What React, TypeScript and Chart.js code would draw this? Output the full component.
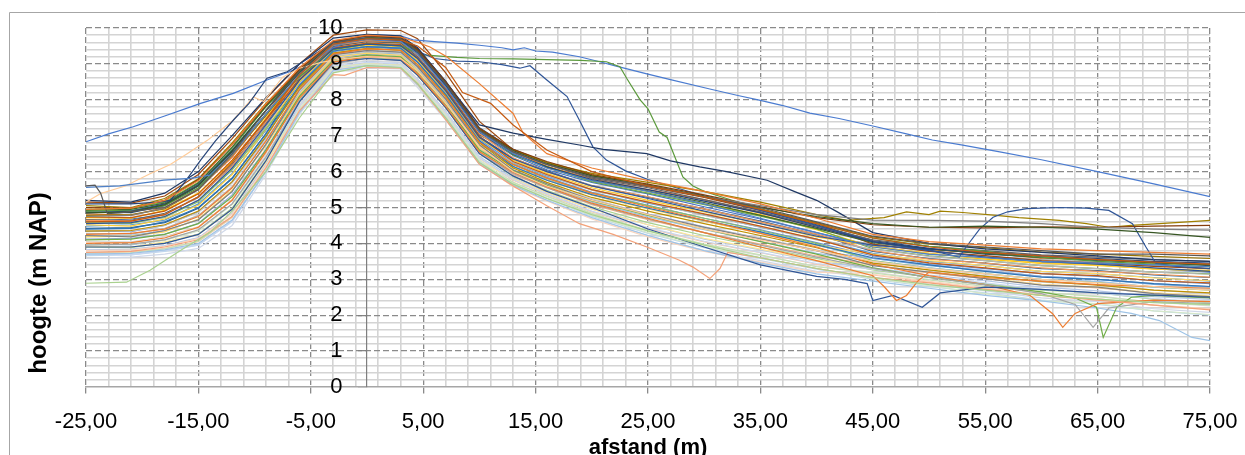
import React, { useEffect, useRef } from 'react';
import { Chart, registerables } from 'chart.js';

Chart.register(...registerables);

// ---------- axis / text ----------
const X_TITLE = 'afstand (m)';
const Y_TITLE = 'hoogte (m NAP)';
const X_MIN = -25;
const X_MAX = 75;
const X_MAJOR = 10;
const X_MINOR = 2;
const Y_MIN = 0;
const Y_MAX = 10;
const Y_MINOR = 0.2;

// ---------- profile stations (m) shared by the regular profiles ----------
const STATIONS = [-25, -21, -18, -15, -12, -9, -6, -3, 0, 3, 4.5, 7, 10, 13, 16, 20, 25, 30, 35, 40, 45, 50, 55, 60, 65, 70, 75];

// ---------- regular profiles (heights m NAP at STATIONS) ----------
const R01 = [4.62, 4.68, 4.80, 5.30, 6.15, 7.40, 8.70, 9.50, 9.64, 9.60, 9.25, 8.40, 7.05, 6.45, 6.05, 5.70, 5.38, 5.02, 4.68, 4.30, 3.93, 3.70, 3.60, 3.47, 3.40, 3.30, 3.20];
const R02 = [4.82, 4.78, 5.00, 5.52, 6.40, 7.60, 8.82, 9.62, 9.76, 9.72, 9.40, 8.50, 7.20, 6.55, 6.15, 5.80, 5.50, 5.22, 4.85, 4.45, 4.05, 3.82, 3.74, 3.58, 3.55, 3.45, 3.42];
const R03 = [4.55, 4.58, 4.72, 5.20, 6.05, 7.25, 8.55, 9.42, 9.55, 9.52, 9.15, 8.25, 6.95, 6.38, 6.00, 5.62, 5.30, 4.95, 4.60, 4.22, 3.98, 3.80, 3.63, 3.55, 3.48, 3.38, 3.30];
const R04 = [4.72, 4.70, 4.92, 5.40, 6.28, 7.48, 8.68, 9.55, 9.68, 9.63, 9.30, 8.35, 7.10, 6.50, 6.10, 5.75, 5.45, 5.10, 4.80, 4.38, 3.90, 3.72, 3.56, 3.44, 3.40, 3.28, 3.25];
const R05 = [4.48, 4.52, 4.65, 5.10, 5.95, 7.15, 8.48, 9.38, 9.50, 9.46, 9.08, 8.20, 6.90, 6.25, 5.88, 5.50, 5.12, 4.80, 4.45, 4.12, 3.72, 3.50, 3.38, 3.22, 3.15, 3.05, 2.95];
const R06 = [4.95, 4.98, 5.15, 5.70, 6.65, 7.80, 8.75, 9.56, 9.70, 9.66, 9.32, 8.42, 7.12, 6.46, 6.12, 5.72, 5.40, 5.08, 4.76, 4.40, 3.85, 3.65, 3.52, 3.38, 3.30, 3.20, 3.15];
const R07 = [4.88, 4.86, 5.05, 5.60, 6.55, 7.70, 8.85, 9.62, 9.78, 9.72, 9.42, 8.52, 7.22, 6.62, 6.25, 5.88, 5.60, 5.30, 4.95, 4.52, 4.08, 3.86, 3.70, 3.62, 3.52, 3.48, 3.38];
const R08 = [5.15, 5.12, 5.32, 5.92, 6.92, 8.02, 9.00, 9.80, 9.95, 9.93, 9.70, 8.75, 7.40, 6.60, 6.22, 5.85, 5.58, 5.28, 4.92, 4.56, 3.98, 3.78, 3.66, 3.52, 3.45, 3.36, 3.30];
const R09 = [4.66, 4.64, 4.84, 5.28, 6.20, 7.35, 8.62, 9.48, 9.62, 9.58, 9.20, 8.32, 7.02, 6.55, 6.20, 5.82, 5.55, 5.22, 4.88, 4.48, 4.10, 3.92, 3.80, 3.68, 3.62, 3.55, 3.50];
const R10 = [4.78, 4.80, 4.96, 5.50, 6.45, 7.55, 8.70, 9.54, 9.66, 9.60, 9.28, 8.38, 7.08, 6.60, 6.24, 5.90, 5.62, 5.30, 4.96, 4.58, 4.18, 3.98, 3.88, 3.76, 3.70, 3.64, 3.58];
const R11 = [4.42, 4.44, 4.58, 4.98, 5.82, 7.05, 8.55, 9.44, 9.56, 9.52, 9.15, 8.26, 6.98, 6.36, 6.02, 5.60, 5.28, 4.96, 4.62, 4.25, 3.78, 3.58, 3.45, 3.30, 3.24, 3.12, 3.05];
const R12 = [4.92, 4.95, 5.12, 5.68, 6.68, 7.82, 8.80, 9.60, 9.74, 9.70, 9.38, 8.48, 7.18, 6.48, 6.14, 5.76, 5.46, 5.14, 4.78, 4.42, 4.02, 3.84, 3.72, 3.60, 3.55, 3.46, 3.40];
const R13 = [4.35, 4.33, 4.50, 4.88, 5.70, 6.95, 8.42, 9.34, 9.47, 9.42, 9.04, 8.14, 6.86, 6.20, 5.84, 5.42, 5.06, 4.70, 4.38, 4.02, 3.65, 3.44, 3.30, 3.16, 3.08, 2.96, 2.88];
const R14 = [4.64, 4.62, 4.80, 5.30, 6.16, 7.38, 8.66, 9.52, 9.65, 9.62, 9.26, 8.36, 7.06, 6.38, 6.00, 5.60, 5.30, 4.96, 4.60, 4.26, 3.80, 3.56, 3.45, 3.32, 3.22, 3.14, 3.06];
const R15 = [4.28, 4.26, 4.42, 4.78, 5.58, 6.85, 8.28, 9.25, 9.38, 9.32, 8.92, 8.02, 6.75, 6.26, 5.90, 5.48, 5.14, 4.78, 4.46, 4.10, 3.84, 3.64, 3.52, 3.38, 3.30, 3.20, 3.14];
const R16 = [4.52, 4.48, 4.68, 5.06, 5.92, 7.18, 8.50, 9.40, 9.52, 9.48, 9.10, 8.22, 6.92, 6.32, 5.95, 5.55, 5.20, 4.88, 4.55, 4.18, 3.92, 3.72, 3.58, 3.46, 3.38, 3.30, 3.22];
const R17 = [4.20, 4.22, 4.35, 4.66, 5.45, 6.75, 8.20, 9.20, 9.32, 9.28, 8.86, 7.96, 6.70, 6.15, 5.78, 5.35, 4.98, 4.62, 4.30, 3.95, 3.58, 3.38, 3.24, 3.08, 3.00, 2.86, 2.78];
const R18 = [4.58, 4.56, 4.74, 5.16, 6.05, 7.20, 8.35, 9.30, 9.42, 9.38, 8.98, 8.08, 6.80, 6.20, 5.82, 5.40, 5.05, 4.70, 4.36, 4.00, 3.52, 3.32, 3.16, 3.00, 2.92, 2.78, 2.70];
const R19 = [4.12, 4.14, 4.26, 4.56, 5.35, 6.62, 8.14, 9.16, 9.28, 9.24, 8.80, 7.90, 6.64, 6.05, 5.66, 5.22, 4.82, 4.46, 4.14, 3.80, 3.58, 3.40, 3.24, 3.08, 3.00, 2.88, 2.80];
const R20 = [4.05, 4.03, 4.18, 4.46, 5.22, 6.52, 8.08, 9.12, 9.24, 9.18, 8.74, 7.86, 6.58, 5.92, 5.55, 5.08, 4.66, 4.30, 3.98, 3.65, 3.40, 3.18, 3.02, 2.86, 2.76, 2.62, 2.52];
const R21 = [4.36, 4.34, 4.50, 4.86, 5.68, 6.90, 8.22, 9.22, 9.34, 9.29, 8.88, 7.98, 6.70, 6.02, 5.64, 5.24, 4.80, 4.44, 4.15, 3.82, 3.46, 3.25, 3.10, 2.92, 2.85, 2.70, 2.60];
const R22 = [4.18, 4.20, 4.32, 4.68, 5.48, 6.72, 8.15, 9.18, 9.30, 9.24, 8.82, 7.92, 6.65, 6.12, 5.76, 5.34, 4.96, 4.62, 4.28, 3.94, 3.70, 3.52, 3.38, 3.22, 3.16, 3.04, 2.96];
const R23 = [3.98, 3.96, 4.10, 4.36, 5.10, 6.42, 8.00, 9.07, 9.18, 9.14, 8.70, 7.80, 6.52, 5.98, 5.60, 5.15, 4.74, 4.38, 4.06, 3.72, 3.50, 3.32, 3.15, 3.00, 2.94, 2.78, 2.72];
const R24 = [3.90, 3.88, 4.02, 4.26, 4.98, 6.30, 7.98, 9.06, 9.18, 9.12, 8.68, 7.78, 6.50, 5.86, 5.48, 5.02, 4.58, 4.22, 3.90, 3.58, 3.26, 3.06, 2.88, 2.70, 2.62, 2.45, 2.35];
const R25 = [3.82, 3.84, 3.94, 4.16, 4.85, 6.20, 7.86, 8.98, 9.08, 9.04, 8.58, 7.68, 6.42, 5.82, 5.42, 4.96, 4.52, 4.12, 3.82, 3.50, 3.32, 3.12, 2.96, 2.78, 2.68, 2.52, 2.44];
const R26 = [3.74, 3.76, 3.86, 4.05, 4.72, 6.10, 7.80, 8.92, 9.02, 8.98, 8.52, 7.62, 6.36, 5.76, 5.36, 4.88, 4.42, 4.04, 3.74, 3.42, 3.12, 2.92, 2.74, 2.56, 2.45, 2.28, 2.18];
const R27 = [4.06, 4.04, 4.18, 4.45, 5.20, 6.45, 7.88, 8.97, 9.10, 9.05, 8.56, 7.66, 6.40, 5.70, 5.30, 4.82, 4.35, 3.96, 3.66, 3.36, 3.20, 3.00, 2.82, 2.62, 2.54, 2.36, 2.26];
const R28 = [3.92, 3.90, 4.04, 4.25, 4.95, 6.25, 7.74, 8.90, 9.00, 8.95, 8.46, 7.56, 6.30, 5.80, 5.42, 4.95, 4.52, 4.14, 3.84, 3.52, 3.40, 3.20, 3.04, 2.86, 2.78, 2.62, 2.54];
const R29 = [3.66, 3.68, 3.78, 3.95, 4.62, 6.00, 7.72, 8.88, 8.98, 8.94, 8.45, 7.55, 6.30, 5.65, 5.25, 4.76, 4.28, 3.88, 3.58, 3.28, 3.00, 2.80, 2.62, 2.42, 2.30, 2.12, 2.00];
const R30 = [3.72, 3.74, 3.85, 4.06, 4.75, 6.08, 7.66, 8.84, 8.94, 8.90, 8.40, 7.50, 6.25, 5.70, 5.32, 4.84, 4.36, 3.98, 3.68, 3.35, 3.18, 2.98, 2.80, 2.64, 2.52, 2.36, 2.28];
const R31 = [4.40, 4.42, 4.60, 5.00, 5.80, 7.05, 8.40, 9.36, 9.48, 9.44, 9.05, 8.15, 6.85, 6.14, 5.76, 5.36, 4.98, 4.64, 4.32, 3.96, 3.60, 3.40, 3.22, 3.06, 3.00, 2.88, 2.80];
const R32 = [4.74, 4.72, 4.90, 5.38, 6.32, 7.45, 8.56, 9.45, 9.58, 9.54, 9.16, 8.28, 6.98, 6.28, 5.92, 5.50, 5.15, 4.82, 4.48, 4.12, 3.68, 3.46, 3.32, 3.16, 3.10, 2.96, 2.90];
const R33 = [4.22, 4.18, 4.36, 4.66, 5.45, 6.76, 8.28, 9.26, 9.37, 9.33, 8.92, 8.02, 6.74, 6.04, 5.66, 5.20, 4.80, 4.45, 4.12, 3.80, 3.38, 3.20, 3.02, 2.84, 2.78, 2.60, 2.52];
const R34 = [4.34, 4.36, 4.52, 4.90, 5.72, 6.98, 8.36, 9.30, 9.43, 9.38, 8.98, 8.10, 6.80, 6.10, 5.70, 5.28, 4.90, 4.55, 4.22, 3.88, 3.45, 3.26, 3.08, 2.94, 2.84, 2.70, 2.62];
const R35 = [3.58, 3.62, 3.70, 3.86, 4.50, 5.92, 7.60, 8.80, 8.88, 8.86, 8.34, 7.44, 6.20, 5.60, 5.20, 4.70, 4.22, 3.80, 3.52, 3.22, 3.06, 2.86, 2.68, 2.48, 2.38, 2.18, 2.08];
const R36 = [3.80, 3.82, 3.92, 4.14, 4.82, 6.15, 7.66, 8.85, 8.95, 8.90, 8.40, 7.50, 6.24, 5.58, 5.18, 4.68, 4.18, 3.78, 3.48, 3.20, 3.14, 2.94, 2.76, 2.56, 2.46, 2.28, 2.18];
const R37 = [3.70, 3.68, 3.80, 3.96, 4.60, 6.02, 7.82, 8.94, 9.04, 9.00, 8.54, 7.64, 6.38, 5.78, 5.38, 4.90, 4.44, 4.06, 3.75, 3.44, 3.28, 3.08, 2.90, 2.72, 2.62, 2.46, 2.36];
const R38 = [3.96, 3.98, 4.08, 4.35, 5.08, 6.35, 7.74, 8.90, 9.00, 8.96, 8.48, 7.58, 6.32, 5.66, 5.26, 4.78, 4.30, 3.90, 3.60, 3.30, 3.02, 2.82, 2.60, 2.40, 2.32, 2.12, 2.02];

// ---------- individual profiles with their own stations ----------
const SP01_X = [-25, -23, -20.8, -18, -14.8, -11.9, -8.9, -6.9, -5, -3, -1, 1, 3, 4.1, 6, 8, 10, 12, 13, 14, 15, 16.5, 18.9, 20.7, 22, 24.9, 27, 30.5, 33, 34.9, 37, 39.4, 42, 45, 48, 50.3, 53, 56.3, 60, 65, 70, 75];
const SP01_Y = [6.83, 7.05, 7.25, 7.55, 7.9, 8.18, 8.55, 8.78, 9.05, 9.45, 9.72, 9.8, 9.78, 9.67, 9.62, 9.58, 9.52, 9.45, 9.39, 9.45, 9.36, 9.33, 9.2, 9.06, 8.95, 8.72, 8.56, 8.3, 8.12, 7.99, 7.84, 7.63, 7.48, 7.27, 7.05, 6.88, 6.74, 6.55, 6.33, 6.0, 5.66, 5.3];
const SP02_X = [-25, -21, -18, -15, -12, -9, -6, -3, 0, 3, 5, 8, 10, 13, 16, 19, 21.3, 22.5, 23.1, 24.3, 25, 26, 26.7, 28.1, 29, 30, 32, 35, 40, 45, 50, 55, 60, 65, 70, 75];
const SP02_Y = [4.9, 4.92, 5.05, 5.55, 6.5, 7.6, 8.65, 9.4, 9.55, 9.5, 9.25, 9.18, 9.15, 9.14, 9.12, 9.1, 9.06, 8.92, 8.6, 8.0, 7.75, 7.1, 6.95, 5.85, 5.6, 5.45, 5.25, 4.95, 4.55, 4.15, 3.92, 3.78, 3.62, 3.5, 3.42, 3.35];
const SP03_X = [-25, -21, -18, -15, -12, -9, -6, -3, 0, 3, 4.5, 6, 8, 10, 12, 13.6, 14.5, 16, 17.8, 18.9, 20.1, 21.3, 23, 25, 30, 35, 40, 45, 50, 55, 60, 65, 70, 75];
const SP03_Y = [4.85, 4.9, 5.1, 5.65, 6.6, 7.7, 8.75, 9.55, 9.7, 9.66, 9.35, 9.15, 9.08, 9.06, 8.98, 8.88, 8.95, 8.55, 8.09, 7.43, 6.69, 6.32, 6.02, 5.78, 5.32, 4.92, 4.5, 4.05, 3.8, 3.62, 3.5, 3.42, 3.32, 3.22];
const SP04_X = [-25, -21, -18, -15, -12, -9, -6, -3, 0, 3, 4.5, 7, 10, 13, 16, 18.9, 21, 24.9, 27, 29.6, 32, 35.6, 38, 40, 42, 45, 50, 55, 60, 65, 70, 75];
const SP04_Y = [5.2, 5.15, 5.4, 6.0, 7.0, 8.05, 9.0, 9.72, 9.82, 9.78, 9.45, 8.5, 7.3, 7.07, 6.9, 6.74, 6.62, 6.5, 6.3, 6.13, 6.0, 5.76, 5.45, 5.2, 4.85, 4.3, 4.0, 3.85, 3.75, 3.65, 3.55, 3.5];
const SP05_X = [-25, -21, -18, -15, -12, -9, -6, -3, 0, 3, 4.5, 7, 10, 13, 16, 20, 25, 30, 35, 40, 42.7, 46, 48, 50, 51, 53, 56, 58, 61.6, 64, 66, 68, 70.5, 73, 75];
const SP05_Y = [5.05, 5.0, 5.25, 5.8, 6.8, 7.9, 8.85, 9.6, 9.72, 9.68, 9.35, 8.45, 7.2, 6.6, 6.25, 5.95, 5.7, 5.45, 5.15, 4.8, 4.64, 4.72, 4.88, 4.8, 4.9, 4.86, 4.78, 4.72, 4.64, 4.55, 4.45, 4.5, 4.55, 4.6, 4.64];
const SP06_X = [-25, -21, -18, -15, -12, -9, -6, -3, 0, 3, 4.5, 7, 10, 13, 16, 20, 25, 30, 35, 40, 45, 50, 52.7, 53.3, 54.5, 55.7, 57, 58.7, 61.6, 64, 66, 68.1, 69.3, 70.2, 72, 75];
const SP06_Y = [4.55, 4.58, 4.75, 5.2, 6.1, 7.3, 8.55, 9.42, 9.55, 9.5, 9.15, 8.25, 6.95, 6.35, 6.0, 5.6, 5.25, 4.9, 4.55, 4.2, 3.95, 3.82, 3.62, 3.9, 4.4, 4.73, 4.88, 4.97, 5.0, 4.98, 4.92, 4.55, 3.9, 3.44, 3.36, 3.3];
const SP07_X = STATIONS;
const SP07_Y = [5.0, 4.98, 5.2, 5.78, 6.75, 7.85, 8.85, 9.62, 9.78, 9.74, 9.4, 8.5, 7.2, 6.62, 6.28, 5.92, 5.65, 5.35, 5.02, 4.72, 4.52, 4.45, 4.43, 4.46, 4.45, 4.48, 4.5];
const SP08_X = STATIONS;
const SP08_Y = [4.85, 4.88, 5.08, 5.62, 6.58, 7.7, 8.78, 9.58, 9.72, 9.68, 9.35, 8.45, 7.15, 6.58, 6.22, 5.88, 5.62, 5.32, 5.0, 4.75, 4.55, 4.45, 4.48, 4.45, 4.4, 4.3, 4.17];
const SP09_X = STATIONS;
const SP09_Y = [4.75, 4.78, 4.98, 5.5, 6.45, 7.6, 8.7, 9.52, 9.68, 9.64, 9.3, 8.4, 7.12, 6.55, 6.2, 5.85, 5.6, 5.3, 5.05, 4.8, 4.65, 4.64, 4.62, 4.55, 4.45, 4.4, 4.37];
const SP10_X = [-25, -21, -18, -15, -12, -9, -6, -3, 0, 3, 4.5, 7, 10, 13, 16, 20, 25, 30, 35, 40, 45, 50, 55, 60, 65, 68, 70.5, 73.4, 75];
const SP10_Y = [3.7, 3.72, 3.82, 4.0, 4.65, 6.0, 7.65, 8.82, 8.95, 8.9, 8.42, 7.5, 6.22, 5.62, 5.2, 4.72, 4.22, 3.8, 3.45, 3.15, 2.95, 2.75, 2.55, 2.4, 2.2, 2.05, 1.85, 1.38, 1.29];
const SP11_X = [-25, -21, -18, -15, -12, -9, -6, -3, 0, 3, 4.5, 7, 10, 13, 16, 20, 25, 30, 35, 40, 45, 50, 55, 60, 63, 64.9, 65.5, 66.7, 68, 70, 75];
const SP11_Y = [4.1, 4.12, 4.25, 4.55, 5.3, 6.6, 8.1, 9.1, 9.25, 9.2, 8.78, 7.88, 6.6, 6.02, 5.62, 5.18, 4.78, 4.4, 4.05, 3.7, 3.32, 3.05, 2.85, 2.65, 2.48, 2.22, 1.38, 2.22, 2.5, 2.55, 2.48];
const SP12_X = [-25, -21, -18, -15, -12, -9, -6, -3, 0, 3, 4.5, 7, 10, 13, 16, 20, 25, 30, 35, 40, 45, 50, 55, 59, 61, 61.9, 63, 65, 70, 75];
const SP12_Y = [4.25, 4.28, 4.4, 4.75, 5.55, 6.85, 8.3, 9.28, 9.42, 9.38, 8.98, 8.08, 6.82, 6.2, 5.82, 5.4, 5.02, 4.65, 4.28, 3.9, 3.42, 3.1, 2.85, 2.55, 2.04, 1.66, 2.05, 2.32, 2.42, 2.38];
const SP13_X = [-25, -21, -18, -15, -12, -9, -6, -3, 0, 3, 4.5, 7, 10, 13, 16, 20, 25, 30, 35, 40, 45, 50, 55, 60, 63, 64.6, 66, 70, 75];
const SP13_Y = [3.95, 3.98, 4.1, 4.38, 5.1, 6.4, 7.95, 9.0, 9.15, 9.1, 8.7, 7.8, 6.5, 5.95, 5.55, 5.1, 4.68, 4.3, 3.95, 3.62, 3.3, 3.05, 2.85, 2.6, 2.3, 1.66, 2.2, 2.38, 2.32];
const SP14_X = [-25, -21, -18, -15, -12, -9, -6, -3, -2, 0, 3, 4.5, 7, 10, 13, 16, 18.9, 21.9, 24.9, 27.8, 29, 30.5, 31.4, 32.1, 35, 40, 45, 50, 55, 60, 65, 70, 75];
const SP14_Y = [3.75, 3.78, 3.9, 4.1, 4.75, 6.1, 7.7, 8.7, 8.68, 8.9, 8.88, 8.45, 7.45, 6.2, 5.6, 5.05, 4.55, 4.25, 3.9, 3.53, 3.34, 3.02, 3.3, 3.75, 3.6, 3.3, 3.05, 2.9, 2.72, 2.55, 2.42, 2.28, 2.15];
const SP15_X = [-25, -21, -18, -15, -12, -9, -6, -3, 0, 3, 4.5, 7, 10, 13, 16, 20, 25, 30, 35, 40, 42.5, 44.5, 45, 46.8, 49.4, 51, 55, 60, 65, 70, 75];
const SP15_Y = [3.9, 3.9, 4.0, 4.25, 4.95, 6.3, 7.95, 9.05, 9.15, 9.1, 8.68, 7.78, 6.5, 5.88, 5.45, 5.0, 4.4, 3.9, 3.4, 3.08, 3.0, 2.88, 2.41, 2.55, 2.22, 2.62, 2.78, 2.72, 2.62, 2.56, 2.5];
const SP16_X = [-25, -21, -18, -15, -12, -9, -6, -3, 0, 3, 4.5, 7, 10, 13, 16, 20, 25, 30, 35, 40, 45, 46, 47.1, 48, 49, 50, 55, 60, 65, 70, 75];
const SP16_Y = [4.0, 4.02, 4.15, 4.45, 5.2, 6.55, 8.05, 9.05, 9.2, 9.15, 8.72, 7.82, 6.55, 5.98, 5.58, 5.12, 4.7, 4.3, 3.9, 3.52, 3.1, 2.8, 2.41, 2.55, 2.95, 3.2, 3.05, 2.95, 2.85, 2.8, 2.75];
const SP17_X = [-25, -23.7, -21.5, -19.3, -17.5, -16, -14.2, -11.9, -10.1, -9.2, -7.5, -6, -4, -2, 0, 3, 4.5, 7, 10, 13, 16, 20, 25, 30, 35, 40, 45, 50, 55, 60, 65, 70, 75];
const SP17_Y = [5.15, 5.39, 5.6, 5.94, 6.2, 6.5, 6.87, 7.43, 8.08, 7.95, 8.63, 8.88, 9.05, 9.15, 9.2, 9.15, 8.8, 7.9, 6.7, 6.0, 5.6, 5.2, 4.8, 4.4, 4.1, 3.8, 3.5, 3.3, 3.15, 3.0, 2.9, 2.8, 2.7];
const SP18_X = [-25, -21, -18.5, -17.5, -16, -14.8, -13.5, -11.9, -10.5, -8.9, -7.1, -5.5, -3, 0, 3, 4.5, 7, 10, 13, 16, 20, 25, 30, 35, 40, 45, 50, 55, 60, 65, 70, 75];
const SP18_Y = [5.1, 5.1, 5.15, 5.2, 5.8, 6.32, 6.85, 7.43, 7.9, 8.6, 8.78, 9.1, 9.6, 9.7, 9.65, 9.3, 8.4, 7.1, 6.5, 6.12, 5.78, 5.5, 5.18, 4.85, 4.45, 4.05, 3.85, 3.75, 3.65, 3.58, 3.5, 3.45];
const SP19_X = [-25, -22, -19, -18.1, -15.7, -14, -12, -9, -6, -3, 0, 3, 4.5, 7, 10, 13, 16, 20, 25, 30, 35, 40, 45, 50, 55, 60, 65, 70, 75];
const SP19_Y = [5.56, 5.6, 5.72, 5.76, 5.81, 5.9, 6.5, 7.6, 8.7, 9.55, 9.68, 9.62, 9.28, 8.35, 7.1, 6.5, 6.1, 5.75, 5.45, 5.1, 4.7, 4.3, 3.9, 3.7, 3.6, 3.5, 3.45, 3.4, 3.35];
const SP20_X = [-25, -24.2, -23.7, -23.1, -22, -18, -15, -12, -9, -6, -3, 0, 3, 4.5, 7, 10, 13, 16, 20, 25, 30, 35, 40, 45, 50, 55, 60, 65, 70, 75];
const SP20_Y = [5.6, 5.62, 5.4, 4.83, 4.85, 5.0, 5.5, 6.5, 7.7, 8.8, 9.6, 9.72, 9.7, 9.35, 8.45, 7.15, 6.55, 6.2, 5.85, 5.6, 5.3, 5.0, 4.6, 4.2, 4.0, 3.9, 3.8, 3.7, 3.7, 3.65];
const SP21_X = [-25, -21.4, -19.3, -16.6, -14, -12, -9, -6, -3, 0, 3, 4.5, 7, 10, 13, 16, 20, 25, 30, 35, 40, 45, 50, 55, 60, 65, 70, 75];
const SP21_Y = [2.89, 2.92, 3.25, 3.8, 4.3, 4.9, 6.0, 7.5, 8.75, 8.95, 8.9, 8.45, 7.5, 6.25, 5.65, 5.25, 4.8, 4.35, 3.95, 3.6, 3.3, 3.05, 2.85, 2.7, 2.55, 2.45, 2.35, 2.3];
const SP22_X = [-25, -21, -18, -15, -12, -9, -6, -3, 0, 3, 4.5, 5.6, 7.1, 10, 13, 13.9, 16, 20, 25, 30, 35, 40, 45, 50, 55, 60, 65, 70, 75];
const SP22_Y = [4.95, 4.98, 5.2, 5.75, 6.75, 7.88, 8.9, 9.65, 9.8, 9.75, 9.6, 9.47, 9.2, 8.45, 7.62, 7.07, 6.5, 6.1, 5.75, 5.45, 5.1, 4.7, 4.25, 4.05, 3.95, 3.85, 3.8, 3.75, 3.7];
const SP23_X = [-25, -21, -18, -15, -12, -9, -6, -3, 0, 3, 4.5, 7, 8.5, 11, 13, 16, 20, 25, 30, 35, 40, 45, 50, 55, 60, 65, 70, 75];
const SP23_Y = [4.6, 4.62, 4.8, 5.3, 6.25, 7.45, 8.7, 9.55, 9.7, 9.66, 9.5, 8.9, 8.2, 7.9, 7.3, 6.6, 6.0, 5.6, 5.3, 4.95, 4.55, 4.15, 3.9, 3.75, 3.65, 3.55, 3.48, 3.42];

const REGULAR = [R01, R02, R03, R04, R05, R06, R07, R08, R09, R10, R11, R12, R13, R14, R15, R16, R17, R18, R19, R20, R21, R22, R23, R24, R25, R26, R27, R28, R29, R30, R31, R32, R33, R34, R35, R36, R37, R38];
const SPECIAL_X = [SP01_X, SP02_X, SP03_X, SP04_X, SP05_X, SP06_X, SP07_X, SP08_X, SP09_X, SP10_X, SP11_X, SP12_X, SP13_X, SP14_X, SP15_X, SP16_X, SP17_X, SP18_X, SP19_X, SP20_X, SP21_X, SP22_X, SP23_X];
const SPECIAL_Y = [SP01_Y, SP02_Y, SP03_Y, SP04_Y, SP05_Y, SP06_Y, SP07_Y, SP08_Y, SP09_Y, SP10_Y, SP11_Y, SP12_Y, SP13_Y, SP14_Y, SP15_Y, SP16_Y, SP17_Y, SP18_Y, SP19_Y, SP20_Y, SP21_Y, SP22_Y, SP23_Y];

// ---------- styles ----------
const REGULAR_COLORS = ['#4472C4', '#ED7D31', '#A5A5A5', '#FFC000', '#5B9BD5', '#70AD47', '#264478', '#9E480E', '#636363', '#997300', '#255E91', '#43682B', '#698ED0', '#F1975A', '#B7B7B7', '#FFCD33', '#7CAFDD', '#8CC168', '#8FAADC', '#F4B183', '#C9C9C9', '#FFD966', '#9DC3E6', '#A9D18E', '#B4C7E7', '#F8CBAD', '#DBDBDB', '#FFE699', '#BDD7EE', '#C5E0B4', '#2E75B6', '#C55A11', '#7F7F7F', '#BF9000', '#D0D8E8', '#F9D5BE', '#C8D6EE', '#D5E8C8'];
const SPECIAL_COLORS = ['#4A7BD0', '#5B9A3C', '#2F5597', '#1F3864', '#A08000', '#2F5597', '#843C0C', '#375623', '#7F7F7F', '#9DC3E6', '#70AD47', '#ED7D31', '#A5A5A5', '#F4A27A', '#2F5597', '#ED7D31', '#FFCC99', '#264478', '#4F81C7', '#595959', '#A9D18E', '#ED7D31', '#C55A11'];

const FONT = '"Liberation Sans", Arial, sans-serif';
const MAJOR_GRID = '#8a8a8a';
const MINOR_GRID = '#d4d4d4';
const DASH = [6, 3];
// right-aligned y labels end this far left of the x = 0 axis (space-padded)
const Y_LABEL_PAD = '    ';

const isMajorX = (v: number) => {
  const k = (v - X_MIN) / X_MAJOR;
  return Math.abs(k - Math.round(k)) < 1e-6;
};
const isMajorY = (v: number) => Math.abs(v - Math.round(v)) < 1e-6;
const fmtX = (v: number) => v.toFixed(2).replace('.', ',');

const decorPlugin = {
  id: 'decor',
  beforeDraw(chart: any) {
    const { ctx, width, height } = chart;
    ctx.save();
    ctx.fillStyle = '#ffffff';
    ctx.fillRect(0, 0, width, height);
    ctx.strokeStyle = '#a6a6a6';
    ctx.lineWidth = 1;
    ctx.beginPath();
    ctx.moveTo(9.5, height);
    ctx.lineTo(9.5, 12.5);
    ctx.lineTo(width, 12.5);
    ctx.stroke();
    ctx.restore();
  },
  afterDraw(chart: any) {
    const ctx = chart.ctx;
    ctx.save();
    ctx.translate(39, 283);
    ctx.rotate(-Math.PI / 2);
    ctx.font = 'bold 24px ' + FONT;
    ctx.fillStyle = '#000000';
    ctx.textAlign = 'center';
    ctx.textBaseline = 'middle';
    ctx.fillText(Y_TITLE, 0, 0);
    ctx.restore();
  },
};

export default function App() {
  const ref = useRef<HTMLCanvasElement>(null);

  useEffect(() => {
    if (!ref.current) return;
    const datasets: any[] = [];
    const total = REGULAR.length + SPECIAL_Y.length;
    REGULAR.forEach((ys, i) => {
      datasets.push({
        data: STATIONS.map((x, j) => ({ x, y: ys[j] })),
        borderColor: REGULAR_COLORS[i % REGULAR_COLORS.length],
        order: total - i,
      });
    });
    SPECIAL_Y.forEach((ys, i) => {
      const xs = SPECIAL_X[i];
      datasets.push({
        data: xs.map((x, j) => ({ x, y: ys[j] })),
        borderColor: SPECIAL_COLORS[i],
        order: total - REGULAR.length - i,
      });
    });

    const chart = new Chart(ref.current, {
      type: 'line',
      data: { datasets },
      options: {
        animation: false,
        responsive: true,
        maintainAspectRatio: false,
        events: [],
        layout: { padding: { left: 86, right: 35, top: 28, bottom: 0 } },
        elements: {
          point: { radius: 0 },
          line: { tension: 0, borderWidth: 1.2, fill: false },
        },
        plugins: {
          legend: { display: false },
          tooltip: { enabled: false },
          title: { display: false },
        },
        scales: {
          x: {
            type: 'linear',
            position: 'bottom',
            min: X_MIN,
            max: X_MAX,
            afterFit: (s: any) => {
              s.height = 68;
              s.paddingLeft = 0;
              s.paddingRight = 0;
            },
            ticks: {
              stepSize: X_MINOR,
              autoSkip: false,
              maxRotation: 0,
              minRotation: 0,
              padding: 14,
              color: '#000000',
              font: { family: FONT, size: 22 },
              callback: (v: any) => (isMajorX(Number(v)) ? fmtX(Number(v)) : ''),
            },
            grid: {
              color: (c: any) => (c.tick && isMajorX(c.tick.value) ? MAJOR_GRID : MINOR_GRID),
              lineWidth: (c: any) => (c.tick && isMajorX(c.tick.value) ? 1.3 : 1.6),
              tickLength: 8,
              tickWidth: 1.3,
              tickColor: (c: any) => (c.tick && isMajorX(c.tick.value) ? MAJOR_GRID : 'rgba(0,0,0,0)'),
              tickBorderDash: DASH,
            },
            border: {
              display: true,
              color: '#a6a6a6',
              width: 1.5,
              dash: (c: any) => (c.tick && isMajorX(c.tick.value) ? DASH : []),
            },
            title: {
              display: true,
              text: X_TITLE,
              color: '#000000',
              font: { family: FONT, size: 22, weight: 'bold' },
              padding: { top: 0, bottom: -6 },
            },
          },
          y: {
            type: 'linear',
            position: { x: 0 },
            min: Y_MIN,
            max: Y_MAX,
            afterFit: (s: any) => {
              s.paddingTop = 0;
              s.paddingBottom = 0;
            },
            ticks: {
              z: 1,
              stepSize: Y_MINOR,
              autoSkip: false,
              padding: 8,
              color: '#000000',
              font: { family: FONT, size: 22 },
              callback: (v: any) => (isMajorY(Number(v)) ? String(Math.round(Number(v))) + Y_LABEL_PAD : ''),
            },
            grid: {
              color: (c: any) => {
                if (!c.tick) return MINOR_GRID;
                if (Math.abs(c.tick.value) < 1e-6) return 'rgba(0,0,0,0)';
                return isMajorY(c.tick.value) ? MAJOR_GRID : MINOR_GRID;
              },
              lineWidth: (c: any) => (c.tick && isMajorY(c.tick.value) ? 1.3 : 1.6),
              tickLength: 8,
              tickWidth: 1.2,
              tickColor: (c: any) => (c.tick && isMajorY(c.tick.value) ? '#7f7f7f' : 'rgba(0,0,0,0)'),
            },
            border: {
              display: true,
              color: '#7f7f7f',
              width: 1.2,
              dash: (c: any) => (c.tick && isMajorY(c.tick.value) ? DASH : []),
            },
          },
        },
      },
      plugins: [decorPlugin],
    } as any);

    return () => chart.destroy();
  }, []);

  return (
    <div style={{ position: 'absolute', left: 0, top: 0, width: 1245, height: 455 }}>
      <canvas ref={ref} />
    </div>
  );
}
